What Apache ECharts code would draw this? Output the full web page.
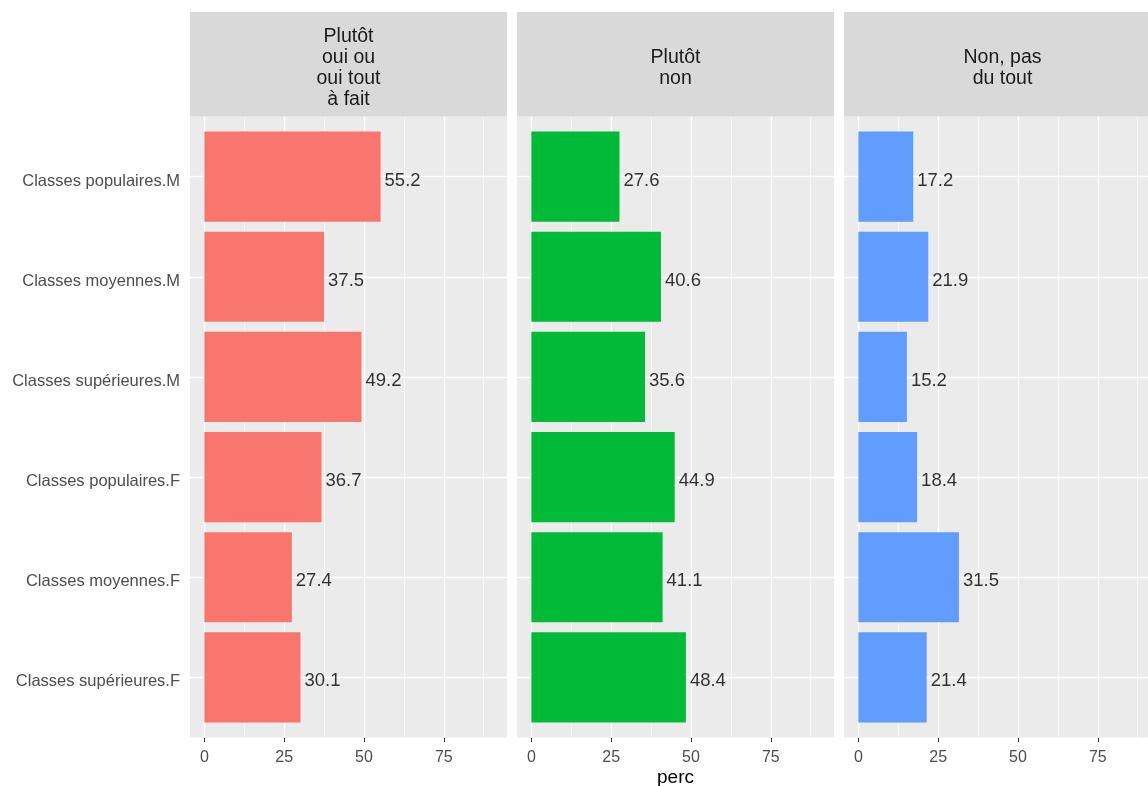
<!DOCTYPE html>
<html>
<head>
<meta charset="utf-8">
<script src="https://cdn.jsdelivr.net/npm/echarts@6/dist/echarts.min.js"></script>
<style>
html, body { margin: 0; padding: 0; background: #fff; }
#main { width: 1148px; height: 786px; }
</style>
</head>
<body>
<div id="main"></div>
<script>
// categories (top to bottom) and facet titles
var categories = ['Classes populaires.M', 'Classes moyennes.M', 'Classes supérieures.M',
                  'Classes populaires.F', 'Classes moyennes.F', 'Classes supérieures.F'];
var facets = ['Plutôt\noui ou\noui tout\nà fait', 'Plutôt\nnon', 'Non, pas\ndu tout'];

// perc values, one array per facet
var ouiValues = [55.2, 37.5, 49.2, 36.7, 27.4, 30.1];
var nonValues = [27.6, 40.6, 35.6, 44.9, 41.1, 48.4];
var pasDuToutValues = [17.2, 21.9, 15.2, 18.4, 31.5, 21.4];

var xTicks = [0, 25, 50, 75];
var xMinor = [12.5, 37.5, 62.5, 87.5];
var colors = ['#F8766D', '#00BA38', '#619CFF'];

var FONT = '"Liberation Sans", Arial, sans-serif';
var panelLeft = [190, 517, 844];
var panelW = 317, panelTop = 116.5, panelH = 621;

var chart = echarts.init(document.getElementById('main'));

var allValues = [ouiValues, nonValues, pasDuToutValues];
var yIdx = categories.map(function (c, i) { return i + 1; });

var grids = [], xAxes = [], yAxes = [], series = [], graphics = [];

// grid lines, drawn under the bars
var gridLines = [];
xTicks.forEach(function (v) { gridLines.push({ xAxis: v, lineStyle: { width: 1.3 } }); });
xMinor.forEach(function (v) { gridLines.push({ xAxis: v, lineStyle: { width: 0.6 } }); });
yIdx.forEach(function (v) { gridLines.push({ yAxis: v, lineStyle: { width: 1.3 } }); });

function renderBar(params, api) {
    var y = api.value(0);
    var start = api.coord([0, y]);
    var end = api.coord([api.value(1), y]);
    var h = api.size([0, 0.9])[1];
    return {
        type: 'rect',
        shape: { x: start[0], y: start[1] - h / 2, width: end[0] - start[0], height: h },
        style: { fill: api.visual('color') }
    };
}

for (var p = 0; p < 3; p++) {
    grids.push({
        left: panelLeft[p], top: panelTop, width: panelW, height: panelH,
        show: true, backgroundColor: '#EBEBEB', borderWidth: 0,
        containLabel: false, outerBoundsMode: 'none'
    });
    xAxes.push({
        type: 'value', gridIndex: p, min: -4.5, max: 94.8,
        axisLine: { show: false },
        axisTick: { show: true, length: 4.5, customValues: xTicks, lineStyle: { color: '#333333', width: 1 } },
        axisLabel: { customValues: xTicks, color: '#4D4D4D', fontSize: 16, fontFamily: FONT, margin: 12 },
        splitLine: { show: false },
        name: p === 1 ? 'perc' : '',
        nameLocation: 'middle', nameGap: 31, nameMoveOverlap: false,
        nameTextStyle: { color: '#000', fontSize: 19, fontFamily: FONT }
    });
    yAxes.push({
        type: 'value', gridIndex: p, min: 0.4, max: 6.6, inverse: true,
        axisLine: { show: false },
        axisTick: { show: p === 0, length: 4.5, customValues: yIdx, lineStyle: { color: '#333333', width: 1 } },
        axisLabel: {
            show: p === 0, customValues: yIdx, color: '#4D4D4D', fontSize: 16.5, fontFamily: FONT, margin: 10,
            formatter: function (v) { return '{c|' + (categories[Math.round(v) - 1] || '') + '}'; },
            rich: { c: { color: '#4D4D4D', fontSize: 16.5, fontFamily: FONT, padding: [9, 0, 0, 0] } }
        },
        splitLine: { show: false }
    });
    var barData = allValues[p].map(function (v, i) { return [yIdx[i], v]; });
    series.push({
        type: 'custom', xAxisIndex: p, yAxisIndex: p, z: 3,
        itemStyle: { color: colors[p] },
        encode: { x: 1, y: 0 },
        renderItem: renderBar,
        data: barData,
        silent: true,
        markLine: {
            silent: true, z: 1, symbol: ['none', 'none'],
            label: { show: false },
            lineStyle: { color: '#FFFFFF', type: 'solid' },
            data: gridLines
        }
    });
    series.push({
        type: 'scatter', xAxisIndex: p, yAxisIndex: p, z: 4,
        symbolSize: 0, silent: true,
        data: allValues[p].map(function (v, i) { return [v, yIdx[i]]; }),
        label: {
            show: true, position: 'right', distance: 4, offset: [0, 4],
            color: '#000', fontSize: 18.5, fontFamily: FONT,
            formatter: function (d) { return d.value[0].toFixed(1); }
        }
    });
    // facet strip
    graphics.push({
        type: 'rect', z: 0,
        shape: { x: panelLeft[p], y: 12, width: panelW, height: 104.5 },
        style: { fill: '#D9D9D9' }
    });
    graphics.push({
        type: 'text', z: 1,
        x: panelLeft[p] + panelW / 2, y: p === 0 ? 68.5 : 68,
        style: {
            text: facets[p], fill: '#1A1A1A', fontSize: 19.5, fontFamily: FONT,
            lineHeight: 21, align: 'center', verticalAlign: 'middle'
        }
    });
}

var option = {
    animation: false,
    backgroundColor: '#FFFFFF',
    grid: grids,
    xAxis: xAxes,
    yAxis: yAxes,
    graphic: graphics,
    series: series
};

chart.setOption(option);
</script>
</body>
</html>
